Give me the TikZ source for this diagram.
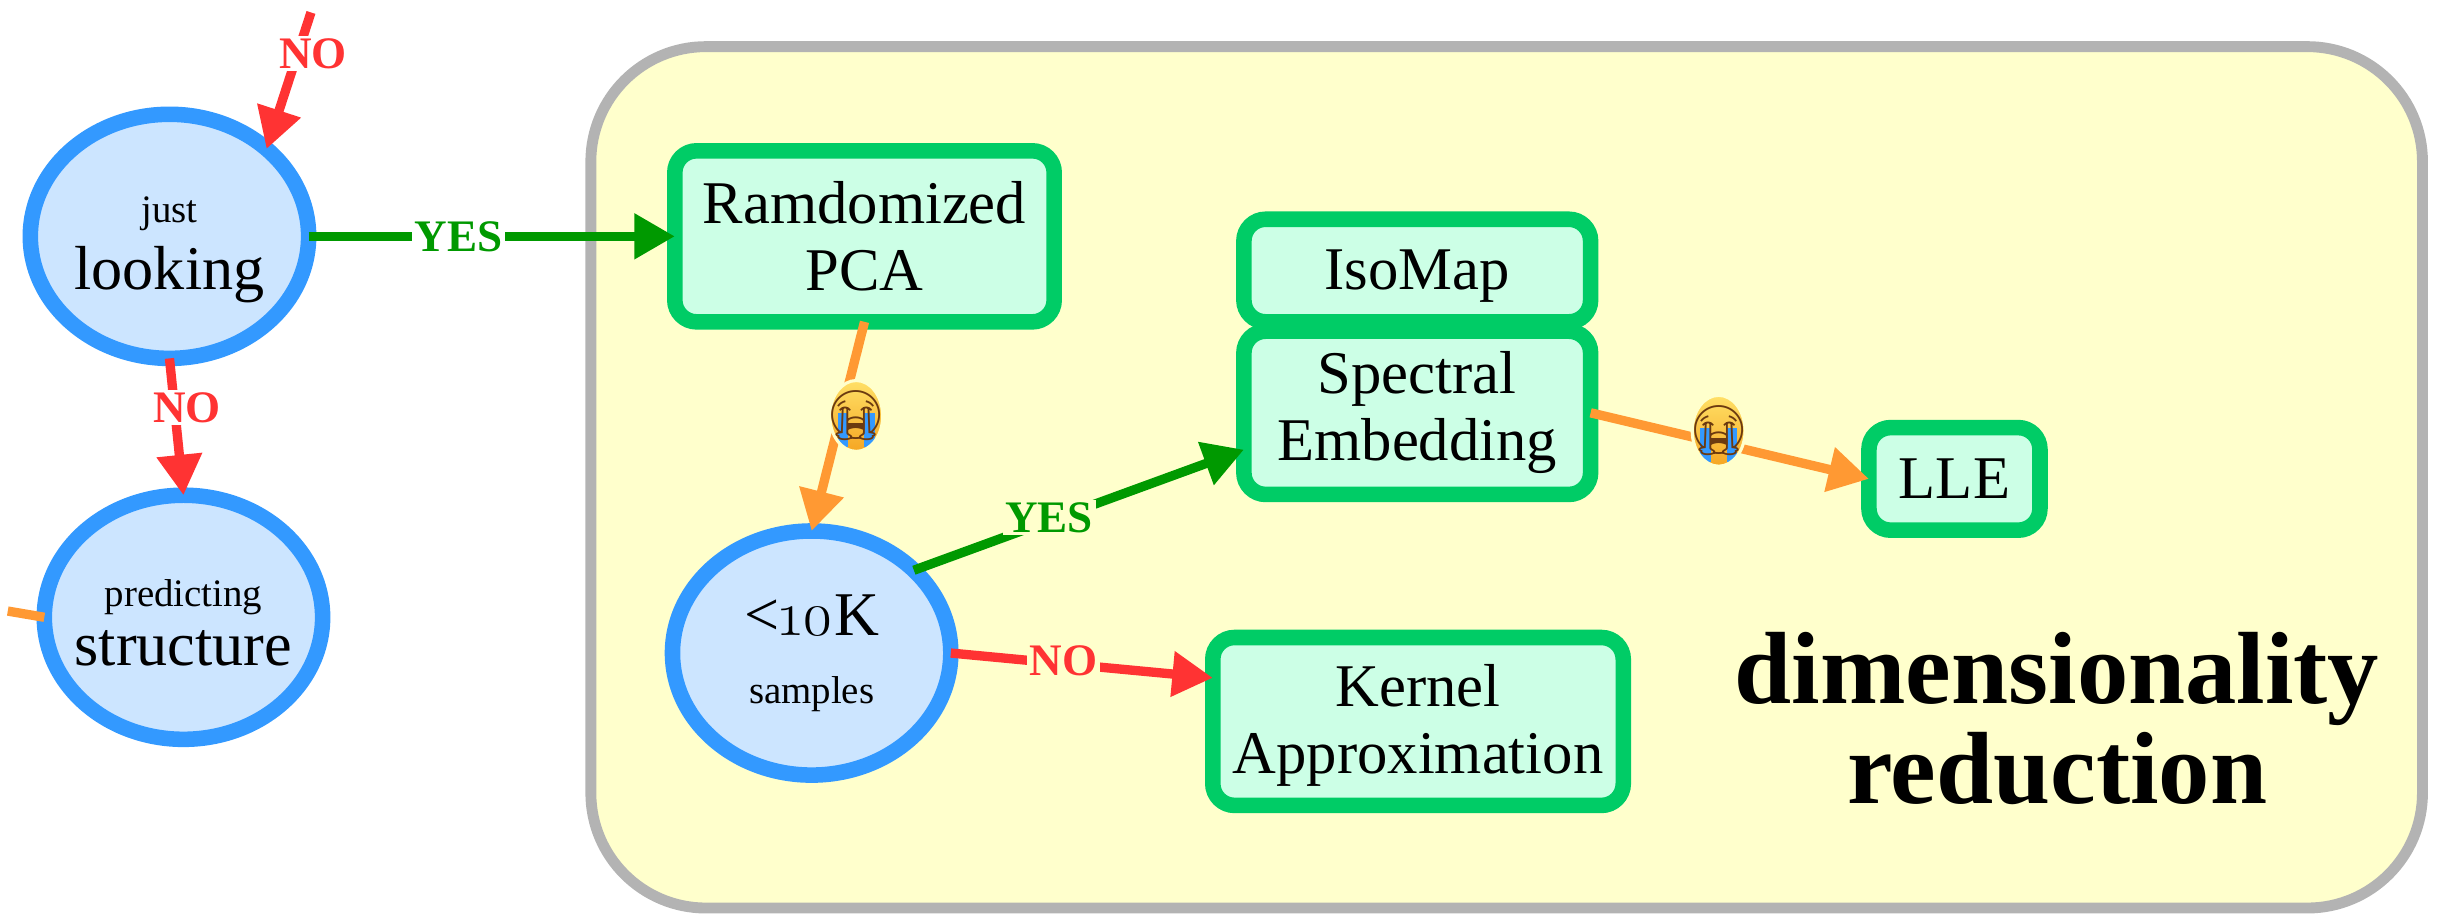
\documentclass[tikz,border=0pt]{standalone}
\usepackage{fontspec}
\setmainfont{Liberation Serif}
\newfontfamily\osf[Numbers=OldStyle]{Latin Modern Roman}
\newfontfamily\emojifont{Noto Emoji}
\usetikzlibrary{arrows.meta,shapes.geometric}
\definecolor{cblue}{HTML}{3399FF}
\definecolor{cbluef}{HTML}{CCE5FF}
\definecolor{cgreen}{HTML}{00CC66}
\definecolor{cgreenf}{HTML}{CCFFE6}
\definecolor{cred}{HTML}{FF3333}
\definecolor{cyes}{HTML}{009900}
\definecolor{corange}{HTML}{FF9933}
\definecolor{cpanel}{HTML}{FFFFCC}
\definecolor{cgrey}{HTML}{B3B3B3}
\definecolor{cfacetop}{HTML}{FFE066}
\definecolor{cfacebot}{HTML}{F5A623}
\definecolor{cglyph}{HTML}{6B3A10}
\tikzset{
  x=0.5pt,y=-0.5pt,
  panelbox/.style={draw=cgrey,fill=cpanel,line width=3.5pt,rounded corners=37pt,minimum width=589pt,minimum height=277pt,outer sep=0pt,inner sep=0pt},
  decision/.style={ellipse,draw=cblue,fill=cbluef,line width=5pt,minimum width=89.5pt,minimum height=78.5pt,outer sep=0pt,inner sep=0pt,align=center,text=black},
  algo/.style={draw=cgreen,fill=cgreenf,line width=5pt,rounded corners=7pt,outer sep=0pt,inner sep=0pt,align=center,text=black,font=\fontsize{19.5}{21.5}\selectfont},
  conn/.style={line width=3pt,-{Triangle[length=13pt,width=14pt]}},
  noarrow/.style={conn,draw=cred},
  yesarrow/.style={conn,draw=cyes},
  sadarrow/.style={conn,draw=corange},
  lab/.style={font=\bfseries\fontsize{14.5}{15}\selectfont,inner sep=0.8pt,outer sep=0pt},
  cry/.style={ellipse,top color=cfacetop,bottom color=cfacebot,draw=cpanel,line width=1pt,minimum width=17pt,minimum height=20pt,inner sep=0pt,text=cglyph,
    font=\emojifont\fontsize{15.5}{15.5}\selectfont,
    path picture={\fill[cblue] ([xshift=-6pt,yshift=-10pt]path picture bounding box.center) rectangle ([xshift=-2.6pt,yshift=1pt]path picture bounding box.center);
                  \fill[cblue] ([xshift=2.6pt,yshift=-10pt]path picture bounding box.center) rectangle ([xshift=6pt,yshift=1pt]path picture bounding box.center);}},
}
\newcommand{\smalltxt}{\fontsize{12.5}{14}\selectfont}
\newcommand{\bigtxt}{\fontsize{20}{22}\selectfont}
\newcommand{\zw}[1]{\makebox[0pt][c]{#1}}
\begin{document}
\begin{tikzpicture}
\useasboundingbox (0,0) rectangle (1568,588);
\node[panelbox] (panel) at (969,307) {};

\node[decision] (just) at (109,152) {\zw{\rule{0pt}{17pt}\smalltxt just}\\[4pt]\zw{\bigtxt looking}};
\node[decision] (pred) at (118,397) {\zw{\rule{0pt}{12pt}\smalltxt predicting}\\[4pt]\zw{\bigtxt structure}};
\node[decision] (tenk) at (522,420) {\zw{\bigtxt <{\osf 10}K}\\[10pt]\zw{\smalltxt samples}};

\node[algo,minimum width=122pt,minimum height=55pt] (pca) at (556,152) {Ramdomized\\PCA};
\node[algo,minimum width=111.5pt,minimum height=33pt] (iso) at (911.5,174) {\rule{0pt}{16.5pt}IsoMap};
\node[algo,minimum width=111.5pt,minimum height=52.5pt] (spec) at (911.5,265.5) {Spectral\\Embedding};
\node[algo,minimum width=55pt,minimum height=33pt] (lle) at (1257,308) {LLE};
\node[algo,minimum width=132pt,minimum height=54pt] (kern) at (912,464) {\rule{0pt}{16pt}Kernel\\Approximation};

\node[font=\bfseries\fontsize{33}{32}\selectfont,align=center,inner sep=0pt] (title) at (1323,462) {dimensionality\\reduction};

\coordinate (topstart) at (200,8);
\coordinate (stubstart) at (5,393);
\draw[noarrow] (topstart) -- node[lab,text=cred,fill=white,pos=0.3,xshift=5pt] (l1) {NO} (just.42);
\draw[noarrow] (just.south) -- node[lab,text=cred,fill=white,pos=0.36,xshift=4pt] (l2) {NO} (pred.north);
\draw[yesarrow] (just.east) -- node[lab,text=cyes,fill=white,pos=0.41] (l3) {YES} (pca.west);
\draw[sadarrow] (pca.south) -- node[cry,pos=0.45,xshift=5pt] (c1) {\zw{😭}} (tenk.north);
\draw[yesarrow] (tenk.39) -- node[lab,text=cyes,fill=cpanel,pos=0.41,yshift=1pt] (l4) {YES} (spec.192);
\draw[noarrow] (tenk.east) -- node[lab,text=cred,fill=cpanel,pos=0.43,yshift=1pt] (l5) {NO} (kern.168);
\draw[sadarrow] (spec.east) -- node[cry,pos=0.46,yshift=4pt] (c2) {\zw{😭}} (lle.west);
\draw[draw=corange,line width=3pt] (stubstart) -- (pred.west);
\end{tikzpicture}
\end{document}
